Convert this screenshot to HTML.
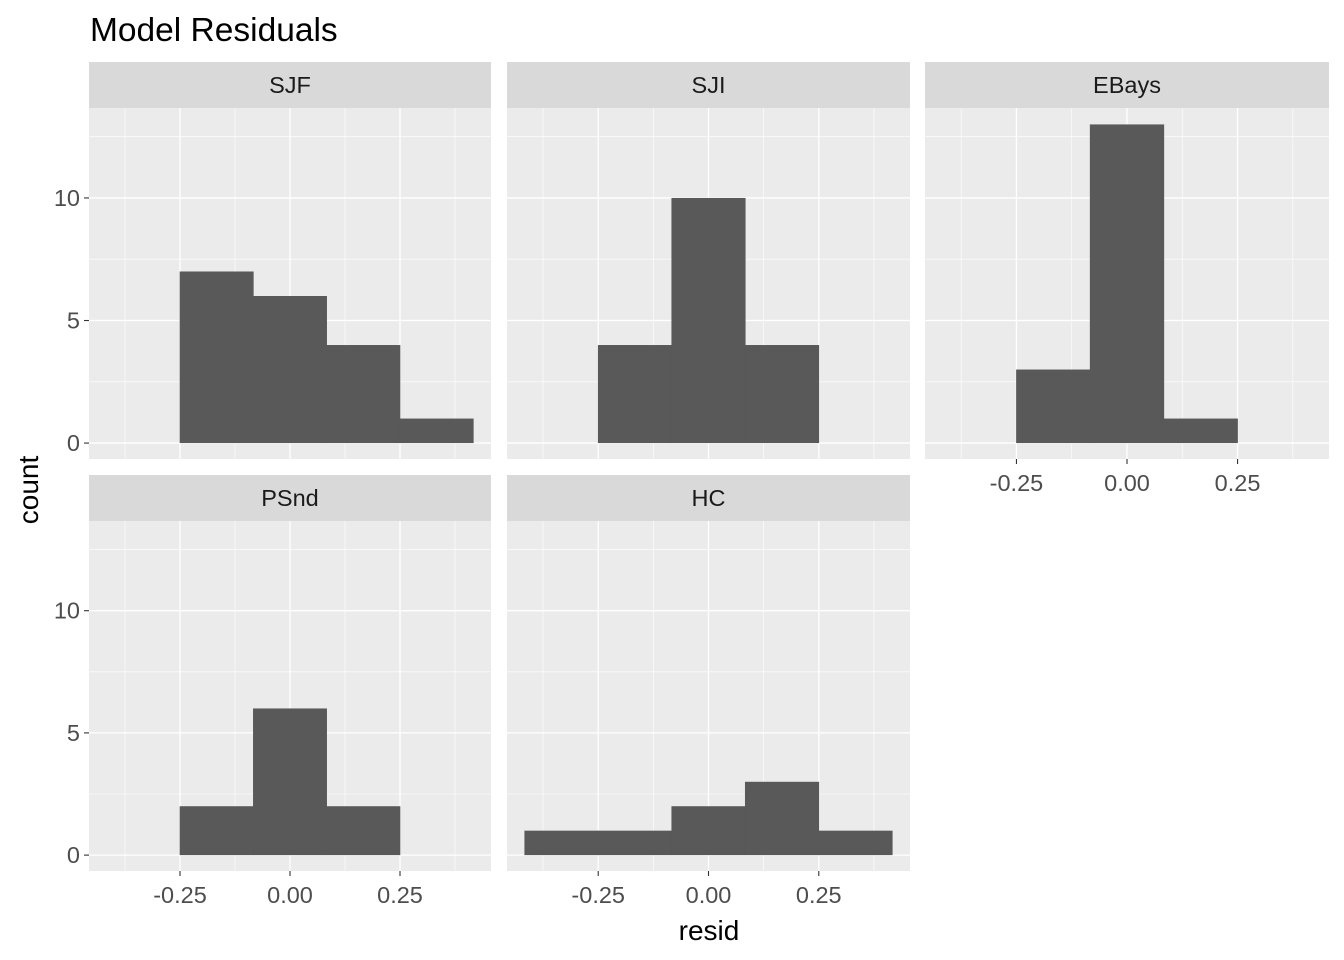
<!DOCTYPE html>
<html><head><meta charset="utf-8"><style>
body{margin:0;background:#fff;}
svg{display:block;font-family:"Liberation Sans",Arial,sans-serif;}
</style></head><body>
<svg id="chart" width="1344" height="960">
<text x="90" y="41" font-size="33.5" fill="#000">Model Residuals</text>
<text x="709" y="940" font-size="28" fill="#000" text-anchor="middle">resid</text>
<text transform="translate(38,490) rotate(-90)" font-size="28" fill="#000" text-anchor="middle">count</text>
</svg>
<script>
const facets = ["SJF","SJI","EBays","PSnd","HC"];
const binCenters = [-0.3333,-0.1667,0,0.1667,0.3333];
const countsSJF = [0,7,6,4,1];
const countsSJI = [0,4,10,4,0];
const countsEBays = [0,3,13,1,0];
const countsPSnd = [0,2,6,2,0];
const countsHC = [1,1,2,3,1];
const xTicks = [-0.25,0,0.25];
const xTickLabels = ["-0.25","0.00","0.25"];
const yTicks = [0,5,10];
const yTickLabels = ["0","5","10"];
const allCounts = [countsSJF,countsSJI,countsEBays,countsPSnd,countsHC];
const binWidth = 1/6;

const svg = document.getElementById('chart');
const NS = "http://www.w3.org/2000/svg";
function mk(tag, attrs){const e=document.createElementNS(NS,tag);for(const k in attrs)e.setAttribute(k,attrs[k]);svg.appendChild(e);return e;}

const panels = [
  {x0:89,x1:491,sy:62,by:108,bb:459,xax:false,yax:true},
  {x0:507,x1:910,sy:62,by:108,bb:459,xax:false,yax:false},
  {x0:925,x1:1329,sy:62,by:108,bb:459,xax:true,yax:false},
  {x0:89,x1:491,sy:475,by:521,bb:871,xax:true,yax:true},
  {x0:507,x1:910,sy:475,by:521,bb:871,xax:true,yax:false}
];
const xmin=-0.4568, xmax=0.4568, ymin=-0.65, ymax=13.67;

panels.forEach((p,i)=>{
  const xs = v => p.x0 + (v-xmin)/(xmax-xmin)*(p.x1-p.x0);
  const ys = v => p.bb - (v-ymin)/(ymax-ymin)*(p.bb-p.by);
  let r=mk('rect',{x:p.x0,y:p.sy,width:p.x1-p.x0,height:p.by-p.sy,fill:'#d9d9d9'});
  
  
  let t=mk('text',{x:(p.x0+p.x1)/2,y:p.sy+31,'font-size':'23.5',fill:'#1a1a1a','text-anchor':'middle'});
  t.textContent=facets[i];
  
  
  r=mk('rect',{x:p.x0,y:p.by,width:p.x1-p.x0,height:p.bb-p.by,fill:'#ebebeb'});
  
  
  [-0.375,-0.125,0.125,0.375].forEach(v=>{const l=mk('line',{x1:xs(v),x2:xs(v),y1:p.by,y2:p.bb,stroke:'#fff','stroke-width':0.6});});
  [2.5,7.5,12.5].forEach(v=>{const l=mk('line',{x1:p.x0,x2:p.x1,y1:ys(v),y2:ys(v),stroke:'#fff','stroke-width':0.6});});
  xTicks.forEach(v=>{const l=mk('line',{x1:xs(v),x2:xs(v),y1:p.by,y2:p.bb,stroke:'#fff','stroke-width':1.3});});
  yTicks.forEach(v=>{const l=mk('line',{x1:p.x0,x2:p.x1,y1:ys(v),y2:ys(v),stroke:'#fff','stroke-width':1.3});});
  allCounts[i].forEach((c,j)=>{
    if(c<=0) return;
    const b=mk('rect',{x:xs(binCenters[j]-binWidth/2)-0.3,y:ys(c),width:xs(binCenters[j]+binWidth/2)-xs(binCenters[j]-binWidth/2)+0.6,height:ys(0)-ys(c),fill:'#595959'});
    
    
  });
  if(p.xax){
    xTicks.forEach((v,k)=>{
      const l=mk('line',{x1:xs(v),x2:xs(v),y1:p.bb,y2:p.bb+5,stroke:'#333','stroke-width':1.1});
      
      const tt=mk('text',{x:xs(v),y:p.bb+32,'font-size':'23.5',fill:'#4d4d4d','text-anchor':'middle'});
      tt.textContent=xTickLabels[k];
      
    });
  }
  if(p.yax){
    yTicks.forEach((v,k)=>{
      const l=mk('line',{x1:p.x0-5,x2:p.x0,y1:ys(v),y2:ys(v),stroke:'#333','stroke-width':1.1});
      
      const tt=mk('text',{x:p.x0-9,y:ys(v)+8,'font-size':'23.5',fill:'#4d4d4d','text-anchor':'end'});
      tt.textContent=yTickLabels[k];
      
    });
  }
});
</script>
</body></html>
